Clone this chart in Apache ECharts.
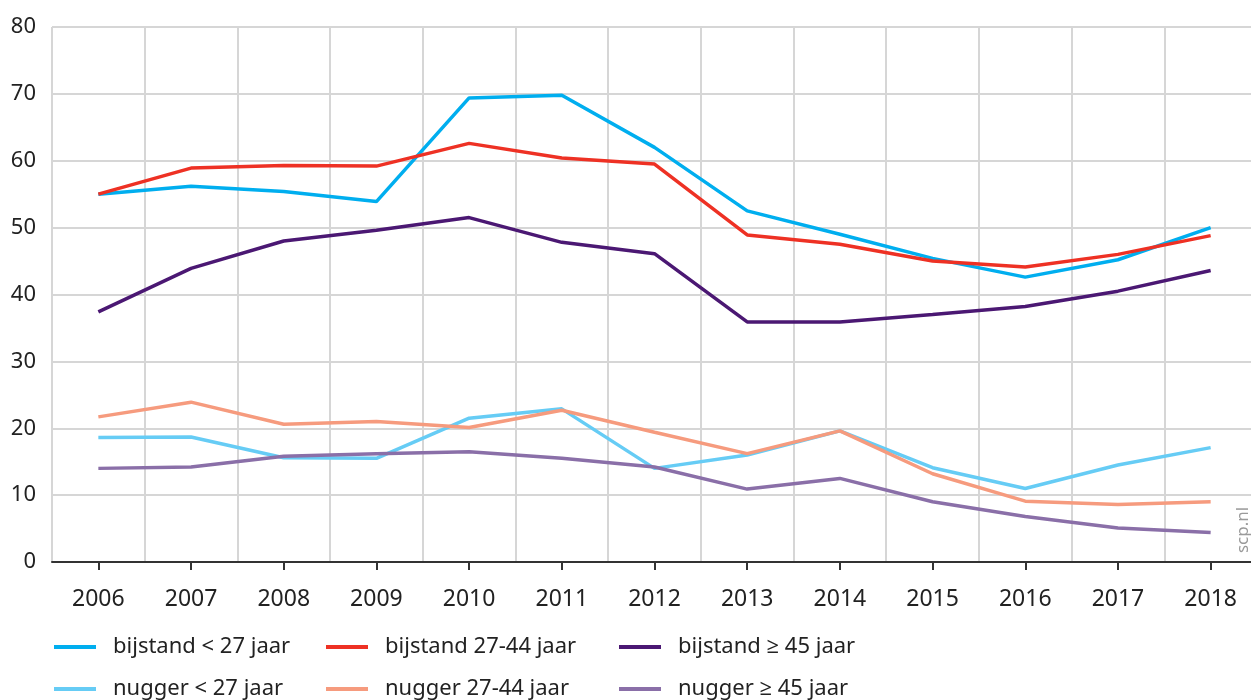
<!DOCTYPE html>
<html>
<head>
<meta charset="utf-8">
<script src="https://cdn.jsdelivr.net/npm/echarts@6/dist/echarts.min.js"></script>
<style>
  html, body { margin: 0; padding: 0; background: #fff; }
  #chart { width: 1251px; height: 700px; }
</style>
</head>
<body>
<div id="chart"></div>
<script>
// Years on the horizontal axis
var years = ['2006', '2007', '2008', '2009', '2010', '2011', '2012', '2013', '2014', '2015', '2016', '2017', '2018'];

// Shares (%) per group
var bijstandJong   = [55.0, 56.2, 55.4, 53.9, 69.4, 69.8, 62.0, 52.5, 49.0, 45.4, 42.6, 45.2, 50.0];
var bijstandMidden = [55.0, 58.9, 59.3, 59.2, 62.6, 60.4, 59.5, 48.9, 47.5, 45.0, 44.1, 46.0, 48.8];
var bijstandOud    = [37.4, 43.9, 48.0, 49.6, 51.5, 47.8, 46.1, 35.9, 35.9, 37.0, 38.2, 40.5, 43.6];
var nuggerJong     = [18.6, 18.7, 15.6, 15.5, 21.5, 22.9, 14.0, 16.0, 19.6, 14.1, 11.0, 14.5, 17.1];
var nuggerMidden   = [21.7, 23.9, 20.6, 21.0, 20.1, 22.7, 19.4, 16.2, 19.6, 13.2, 9.1, 8.6, 9.0];
var nuggerOud      = [14.0, 14.2, 15.8, 16.2, 16.5, 15.5, 14.2, 10.9, 12.5, 9.0, 6.8, 5.1, 4.4];

// Y-axis range
var yMin = 0, yMax = 80, yStep = 10;

var seriesDefs = [
  { name: 'bijstand < 27 jaar',   data: bijstandJong,   color: '#00AEEF' },
  { name: 'bijstand 27-44 jaar',  data: bijstandMidden, color: '#EE3124' },
  { name: 'bijstand ≥ 45 jaar',   data: bijstandOud,    color: '#4B1873' },
  { name: 'nugger < 27 jaar',     data: nuggerJong,     color: '#66CCF5' },
  { name: 'nugger 27-44 jaar',    data: nuggerMidden,   color: '#F69B7E' },
  { name: 'nugger ≥ 45 jaar',     data: nuggerOud,      color: '#8A6FA8' }
];

var FONT = '"Noto Sans", "Open Sans", sans-serif';

// Legend laid out as a 3 x 2 table: one legend block per entry
var legendPos = [
  { left: 54,  top: 635 }, { left: 326, top: 635 }, { left: 619, top: 635 },
  { left: 54,  top: 677 }, { left: 326, top: 677 }, { left: 619, top: 677 }
];
var legends = seriesDefs.map(function (s, i) {
  return {
    data: [s.name],
    left: legendPos[i].left,
    top: legendPos[i].top,
    padding: 0,
    icon: 'rect',
    itemWidth: 42,
    itemHeight: 4,
    selectedMode: false,
    textStyle: {
      fontFamily: FONT,
      fontSize: 22,
      color: '#222',
      lineHeight: 24,
      padding: [0, 0, 0, 12]
    }
  };
});

var chart = echarts.init(document.getElementById('chart'), null, { renderer: 'canvas' });
chart.setOption({
  animation: false,
  backgroundColor: '#ffffff',
  // plot area runs slightly past the right edge of the canvas
  grid: { left: 52, top: 27, width: 1205, bottom: 138, containLabel: false, outerBoundsMode: 'none' },
  legend: legends,
  xAxis: {
    type: 'category',
    data: years,
    boundaryGap: true,
    axisLine: { show: true, lineStyle: { color: '#333', width: 2 } },
    axisTick: { show: true, alignWithLabel: true, length: 8, lineStyle: { color: '#333', width: 2 } },
    axisLabel: { fontFamily: FONT, fontSize: 23, color: '#222', margin: 26 },
    splitLine: { show: true, lineStyle: { color: '#d6d6d6', width: 2 } }
  },
  yAxis: {
    type: 'value',
    min: yMin, max: yMax, interval: yStep,
    axisLine: { show: false },
    axisTick: { show: false },
    axisLabel: { fontFamily: FONT, fontSize: 22, color: '#222', margin: 16 },
    splitLine: { show: true, lineStyle: { color: '#d6d6d6', width: 2 } }
  },
  graphic: [{
    type: 'text',
    x: 1243, y: 530,
    rotation: Math.PI / 2,
    style: {
      text: 'scp.nl',
      fill: '#9a9a9a',
      font: '17px ' + FONT,
      textAlign: 'center',
      textVerticalAlign: 'middle'
    }
  }],
  series: seriesDefs.map(function (s) {
    return {
      name: s.name,
      type: 'line',
      data: s.data,
      symbol: 'none',
      smooth: false,
      color: s.color,
      lineStyle: { width: 3.5, color: s.color },
      emphasis: { disabled: true }
    };
  })
});
</script>
</body>
</html>
